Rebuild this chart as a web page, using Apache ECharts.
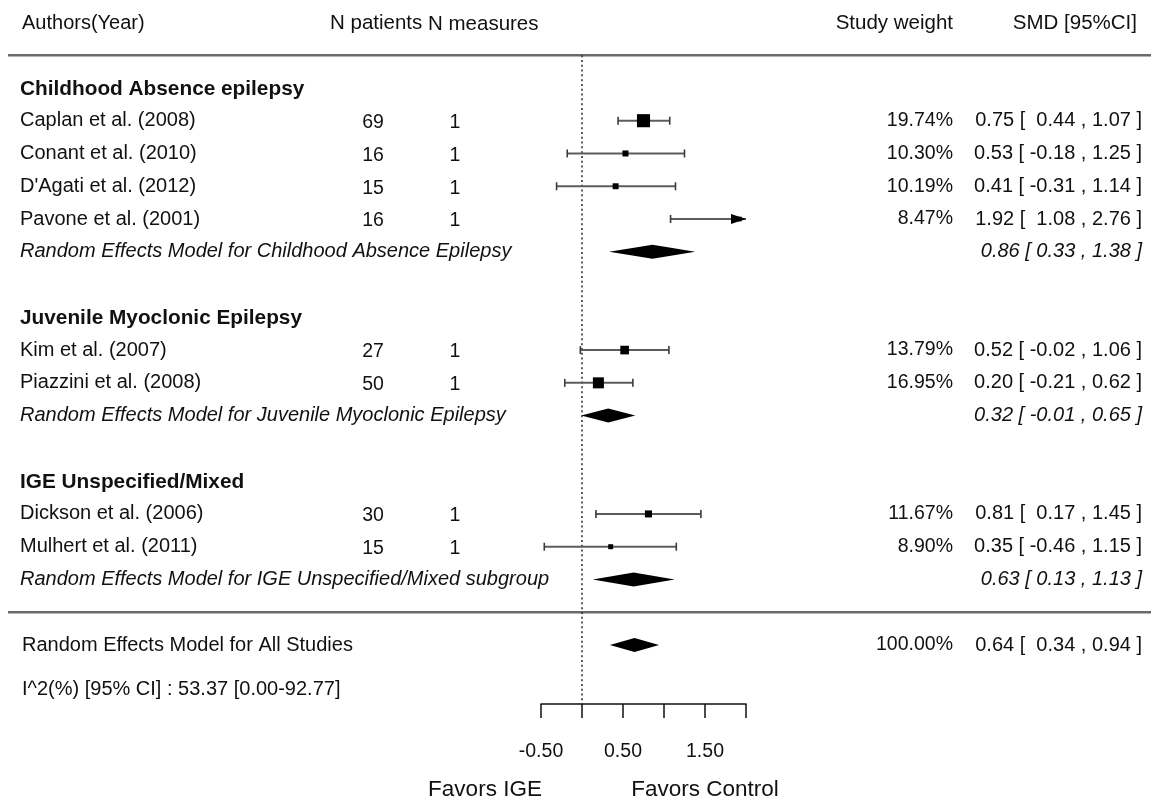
<!DOCTYPE html>
<html>
<head>
<meta charset="utf-8">
<script src="https://cdn.jsdelivr.net/npm/echarts@6/dist/echarts.min.js"></script>
<style>
  html, body { margin: 0; padding: 0; background: #ffffff; }
  #chart { width: 1151px; height: 803px; }
</style>
</head>
<body>
<div id="chart"></div>
<script>
// ---- Data -------------------------------------------------------------
const columnHeaders = ['Authors(Year)', 'N patients', 'N measures', 'Study weight', 'SMD [95%CI]'];
const groupTitles = ['Childhood Absence epilepsy', 'Juvenile Myoclonic Epilepsy', 'IGE Unspecified/Mixed'];

const studyNames = [
  'Caplan et al. (2008)', 'Conant et al. (2010)', "D'Agati et al. (2012)", 'Pavone et al. (2001)',
  'Kim et al. (2007)', 'Piazzini et al. (2008)',
  'Dickson et al. (2006)', 'Mulhert et al. (2011)'
];
const studyGroup   = [0, 0, 0, 0, 1, 1, 2, 2];
const nPatients    = [69, 16, 15, 16, 27, 50, 30, 15];
const nMeasures    = [1, 1, 1, 1, 1, 1, 1, 1];
const studyWeight  = [19.74, 10.30, 10.19, 8.47, 13.79, 16.95, 11.67, 8.90];
const studySmd     = [0.75, 0.53, 0.41, 1.92, 0.52, 0.20, 0.81, 0.35];
const studyLow     = [0.44, -0.18, -0.31, 1.08, -0.02, -0.21, 0.17, -0.46];
const studyHigh    = [1.07, 1.25, 1.14, 2.76, 1.06, 0.62, 1.45, 1.15];

const summaryLabels = [
  'Random Effects Model for Childhood Absence Epilepsy',
  'Random Effects Model for Juvenile Myoclonic Epilepsy',
  'Random Effects Model for IGE Unspecified/Mixed subgroup'
];
const summarySmd  = [0.86, 0.32, 0.63];
const summaryLow  = [0.33, -0.01, 0.13];
const summaryHigh = [1.38, 0.65, 1.13];

const overallLabel  = 'Random Effects Model for All Studies';
const overallWeight = [100.00];
const overallSmd    = [0.64];
const overallLow    = [0.34];
const overallHigh   = [0.94];

const heterogeneityText = 'I^2(%) [95% CI] : 53.37 [0.00-92.77]';
const tickLabels = ['-0.50', '0.50', '1.50'];
const favorLabels = ['Favors IGE', 'Favors Control'];

// ---- Row layout built from the group structure --------------------------
const rows = [{ row: -2, kind: 'header' }];
let r = 0;
groupTitles.forEach((title, g) => {
  rows.push({ row: r++, kind: 'title', g });
  studyGroup.forEach((sg, i) => { if (sg === g) rows.push({ row: r++, kind: 'study', i }); });
  rows.push({ row: r++, kind: 'summary', g });
  r++;
});
const ruleRows = [-1, r - 1];
const overallRow = r;
const hetRow = r + 1.35;
const axisRow = r + 1.8;
rows.push({ row: overallRow, kind: 'overall' });
rows.push({ row: hetRow, kind: 'het' });

const studyRow = [];
rows.forEach(d => { if (d.kind === 'study') studyRow[d.i] = d.row; });
const summaryRow = [];
rows.forEach(d => { if (d.kind === 'summary') summaryRow[d.g] = d.row; });

const X_MIN = -0.5, X_MAX = 2;

// ---- Formatting -------------------------------------------------------
const f2 = v => v.toFixed(2);
const padLo = v => (v < 0 ? f2(v) : ' ' + f2(v));
const fmtStudy = (e, lo, hi) => f2(e) + ' [ ' + padLo(lo) + ' , ' + f2(hi) + ' ]';
const fmtSummary = (e, lo, hi) => f2(e) + ' [ ' + f2(lo) + ' , ' + f2(hi) + ' ]';

const FONT = '"Liberation Sans", Arial, Helvetica, sans-serif';
const INK = '#111111';
function txt(text, x, y, align, size, extra) {
  return {
    type: 'text',
    style: Object.assign({
      text: text, x: x, y: y,
      align: align, textAlign: align,
      verticalAlign: 'middle', textVerticalAlign: 'middle',
      fontSize: size, fontFamily: FONT, fill: INK
    }, extra || {})
  };
}

// column anchors (pixels across the full-width table grid)
const COL = { name: 20, nPat: 373, nMeas: 455, weight: 953, smd: 1142 };

function renderTableRow(params, api) {
  const d = rows[params.dataIndex];
  const y = api.coord([0, d.row])[1];
  const kids = [];
  if (d.kind === 'header') {
    kids.push(txt(columnHeaders[0], 22, y + 1, 'left', 20));
    kids.push(txt(columnHeaders[1], 330, y + 1, 'left', 20.5));
    kids.push(txt(columnHeaders[2], 428, y + 2, 'left', 20.5));
    kids.push(txt(columnHeaders[3], 953, y + 1, 'right', 20.5));
    kids.push(txt(columnHeaders[4], 1137, y + 1, 'right', 20.5));
  } else if (d.kind === 'title') {
    kids.push(txt(groupTitles[d.g], COL.name, y + 1, 'left', 20.8, { fontWeight: 'bold' }));
  } else if (d.kind === 'study') {
    const i = d.i;
    kids.push(txt(studyNames[i], COL.name, y, 'left', 20));
    kids.push(txt(String(nPatients[i]), COL.nPat, y + 2, 'center', 19.5));
    kids.push(txt(String(nMeasures[i]), COL.nMeas, y + 2, 'center', 19.5));
    kids.push(txt(f2(studyWeight[i]) + '%', COL.weight, y, 'right', 19.5));
    kids.push(txt(fmtStudy(studySmd[i], studyLow[i], studyHigh[i]), COL.smd, y, 'right', 20));
  } else if (d.kind === 'summary') {
    const g = d.g;
    kids.push(txt(summaryLabels[g], COL.name, y, 'left', 20, { fontStyle: 'italic' }));
    kids.push(txt(fmtSummary(summarySmd[g], summaryLow[g], summaryHigh[g]), COL.smd, y, 'right', 20, { fontStyle: 'italic' }));
  } else if (d.kind === 'overall') {
    kids.push(txt(overallLabel, 22, y, 'left', 20));
    kids.push(txt(f2(overallWeight[0]) + '%', COL.weight, y, 'right', 19.5));
    kids.push(txt(fmtStudy(overallSmd[0], overallLow[0], overallHigh[0]), COL.smd, y, 'right', 20));
  } else if (d.kind === 'het') {
    kids.push(txt(heterogeneityText, 22, y, 'left', 20));
  }
  return { type: 'group', children: kids };
}

function renderRule(params, api) {
  const y = api.coord([0, api.value(0)])[1];
  const cs = params.coordSys;
  return {
    type: 'line',
    shape: { x1: cs.x + 8, y1: y, x2: cs.x + cs.width, y2: y },
    style: { stroke: '#6a6a6a', lineWidth: 2.5 }
  };
}

function renderStudy(params, api) {
  const est = api.value(0), lo = api.value(1), hi = api.value(2), row = api.value(3), w = api.value(4);
  const y = api.coord([0, row])[1];
  const xl = api.coord([Math.max(lo, X_MIN), row])[0];
  const xh = api.coord([Math.min(hi, X_MAX), row])[0];
  const xe = api.coord([est, row])[0];
  const cap = 4;
  const kids = [
    { type: 'line', shape: { x1: xl, y1: y, x2: xh, y2: y }, style: { stroke: '#5c5c5c', lineWidth: 2 } },
    { type: 'line', shape: { x1: xl, y1: y - cap, x2: xl, y2: y + cap }, style: { stroke: '#3a3a3a', lineWidth: 1.6 } }
  ];
  const s = 0.75 * w - 1.7;
  kids.push({ type: 'rect', shape: { x: xe - s / 2, y: y - s / 2, width: s, height: s }, style: { fill: '#000' } });
  if (hi > X_MAX) {
    kids.push({ type: 'polygon', shape: { points: [[xh, y], [xh - 15, y - 5], [xh - 15, y + 5]] }, style: { fill: '#000' } });
  } else {
    kids.push({ type: 'line', shape: { x1: xh, y1: y - cap, x2: xh, y2: y + cap }, style: { stroke: '#3a3a3a', lineWidth: 1.6 } });
  }
  return { type: 'group', children: kids };
}

function renderDiamond(params, api) {
  const est = api.value(0), lo = api.value(1), hi = api.value(2), row = api.value(3);
  const y = api.coord([0, row])[1];
  const xl = api.coord([lo, row])[0], xh = api.coord([hi, row])[0], xe = api.coord([est, row])[0];
  const h = 7;
  return {
    type: 'polygon',
    shape: { points: [[xl, y], [xe, y - h], [xh, y], [xe, y + h]] },
    style: { fill: '#000' }
  };
}

const studyData = studyNames.map((_, i) => [studySmd[i], studyLow[i], studyHigh[i], studyRow[i], studyWeight[i]]);
const diamondData = summarySmd.map((e, g) => [e, summaryLow[g], summaryHigh[g], summaryRow[g]])
  .concat([[overallSmd[0], overallLow[0], overallHigh[0], overallRow]]);

const chart = echarts.init(document.getElementById('chart'), null, { renderer: 'canvas' });
const yAxisBase = { type: 'value', min: -2.5, max: axisRow, inverse: true, show: false };

chart.setOption({
  animation: false,
  backgroundColor: '#ffffff',
  grid: [
    { left: 0, right: 0, top: 6, bottom: 99 },
    { left: 541, right: 405, top: 6, bottom: 99 }
  ],
  xAxis: [
    { gridIndex: 0, type: 'value', min: 0, max: 1151, show: false },
    {
      gridIndex: 1, type: 'value', min: X_MIN, max: X_MAX, interval: 0.5, position: 'bottom',
      axisLine: { show: true, onZero: false, lineStyle: { color: '#111', width: 1.5 } },
      axisTick: { show: true, inside: false, length: 14, lineStyle: { color: '#111', width: 1.5 } },
      axisLabel: {
        margin: 38, fontSize: 19.5, fontFamily: FONT, color: INK,
        showMinLabel: true, showMaxLabel: true,
        formatter: v => (tickLabels.indexOf(f2(v)) >= 0 ? f2(v) : '')
      },
      splitLine: { show: false }
    }
  ],
  yAxis: [
    Object.assign({ gridIndex: 0 }, yAxisBase),
    Object.assign({ gridIndex: 1 }, yAxisBase)
  ],
  graphic: [
    txt(favorLabels[0], 485, 790, 'center', 22.5),
    txt(favorLabels[1], 705, 790, 'center', 22.5)
  ],
  series: [
    {
      type: 'custom', name: 'rules', xAxisIndex: 0, yAxisIndex: 0, clip: false,
      data: ruleRows.map(v => [v]), renderItem: renderRule, silent: true, z: 1
    },
    {
      type: 'custom', name: 'table', xAxisIndex: 0, yAxisIndex: 0, clip: false,
      data: rows.map(d => [d.row]), renderItem: renderTableRow, silent: true, z: 3
    },
    {
      type: 'line', name: 'null effect', xAxisIndex: 1, yAxisIndex: 1,
      data: [[0, ruleRows[0]], [0, axisRow]], symbol: 'none', silent: true, z: 2,
      lineStyle: { color: '#333', width: 1.6, type: [2, 2.8] }
    },
    {
      type: 'custom', name: 'studies', xAxisIndex: 1, yAxisIndex: 1, clip: false,
      data: studyData, renderItem: renderStudy, z: 4
    },
    {
      type: 'custom', name: 'pooled', xAxisIndex: 1, yAxisIndex: 1, clip: false,
      data: diamondData, renderItem: renderDiamond, z: 4
    }
  ]
});
</script>
</body>
</html>
